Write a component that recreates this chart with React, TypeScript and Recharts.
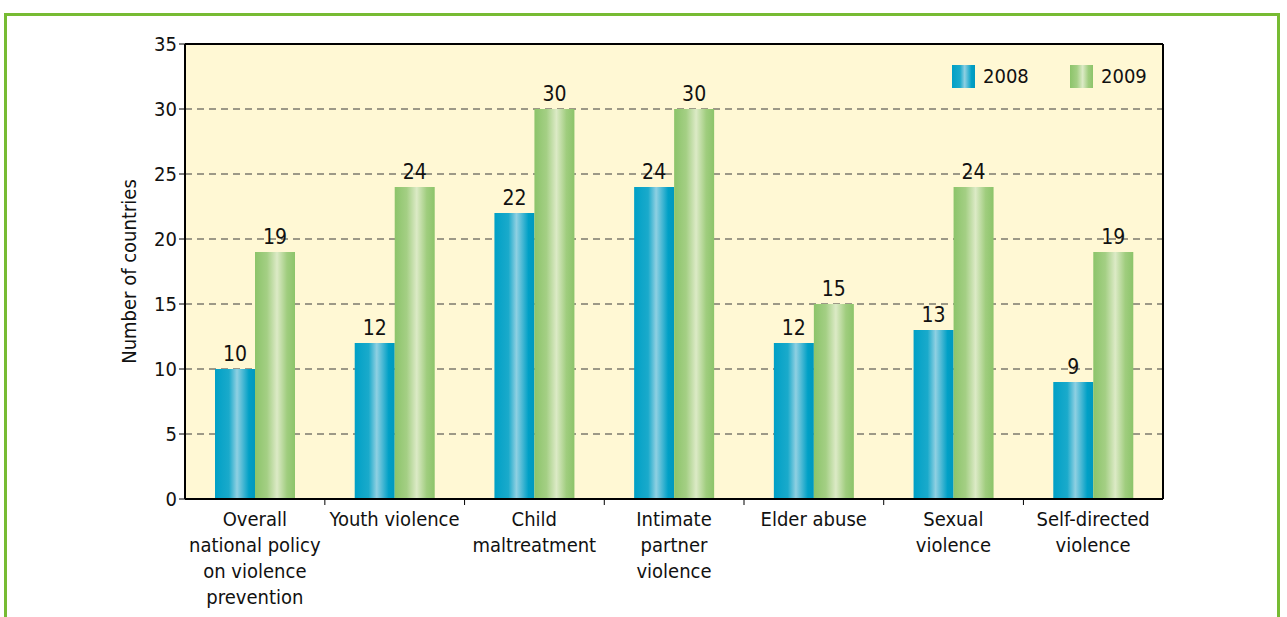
import React from 'react';
import { BarChart, Bar, XAxis, YAxis, CartesianGrid, LabelList } from 'recharts';

const categories = [
  'Overall\nnational policy\non violence\nprevention',
  'Youth violence',
  'Child\nmaltreatment',
  'Intimate\npartner\nviolence',
  'Elder abuse',
  'Sexual\nviolence',
  'Self-directed\nviolence',
];
const values2008 = [10, 12, 22, 24, 12, 13, 9];
const values2009 = [19, 24, 30, 30, 15, 24, 19];
const yTicks = [0, 5, 10, 15, 20, 25, 30, 35];
const seriesNames = ['2008', '2009'];

const data = categories.map((c, i) => ({ name: c, y2008: values2008[i], y2009: values2009[i] }));

const FONT = '"DejaVu Sans Condensed", "Liberation Sans Narrow", "Liberation Sans", Arial, sans-serif';
const PLOT_W = 980;

const XTick = (props: any) => {
  const { x, y, payload, index } = props;
  const lines = String(payload.value).split('\n');
  const half = PLOT_W / categories.length / 2;
  return (
    <g>
      {index < categories.length - 1 && (
        <line x1={x + half} x2={x + half} y1={y - 8} y2={y - 2} stroke="#000" strokeWidth={1} />
      )}
      <text x={x} y={y} textAnchor="middle" fontFamily={FONT} fontSize={20} fill="#111">
        {lines.map((l, i) => (
          <tspan key={i} x={x} dy={i === 0 ? 19 : 26}>{l}</tspan>
        ))}
      </text>
    </g>
  );
};

const BLUE_BG = 'linear-gradient(to right, #00A0C6 0%, #1AAACB 35%, #8FD0E2 55%, #00A0C6 85%, #0098BE 100%)';
const GREEN_BG = 'linear-gradient(to right, #8CC46A 0%, #A4CF84 30%, #DCEAC6 55%, #A0CD7E 80%, #8CC46A 100%)';

export default function App() {
  return (
    <div style={{ position: 'absolute', left: 0, top: 0, width: 1287, height: 617, background: '#fff', overflow: 'hidden' }}>
      <div style={{ position: 'absolute', left: 4, top: 13, width: 1276, height: 700, border: '3px solid #77BB33', boxSizing: 'border-box' }} />
      <div style={{ position: 'absolute', left: 0, top: 0 }}>
        <BarChart
          width={1287}
          height={617}
          data={data}
          margin={{ top: 43, right: 123, left: 125, bottom: 18 }}
          barCategoryGap={30}
          barGap={0}
        >
          <defs>
            <linearGradient id="g2008" x1="0" y1="0" x2="1" y2="0">
              <stop offset="0%" stopColor="#00A0C6" />
              <stop offset="35%" stopColor="#1AAACB" />
              <stop offset="55%" stopColor="#8FD0E2" />
              <stop offset="85%" stopColor="#00A0C6" />
              <stop offset="100%" stopColor="#0098BE" />
            </linearGradient>
            <linearGradient id="g2009" x1="0" y1="0" x2="1" y2="0">
              <stop offset="0%" stopColor="#8CC46A" />
              <stop offset="30%" stopColor="#A4CF84" />
              <stop offset="55%" stopColor="#DCEAC6" />
              <stop offset="80%" stopColor="#A0CD7E" />
              <stop offset="100%" stopColor="#8CC46A" />
            </linearGradient>
          </defs>
          <CartesianGrid vertical={false} stroke="#3a3a3a" strokeDasharray="7 5" fill="#FFF8D4" />
          <XAxis
            dataKey="name"
            interval={0}
            tick={<XTick />}
            tickLine={false}
            axisLine={{ stroke: '#000', strokeWidth: 2 }}
            height={100}
          />
          <XAxis xAxisId="top" orientation="top" dataKey="name" tick={false} tickLine={false} height={1} axisLine={{ stroke: '#000', strokeWidth: 2 }} />
          <YAxis
            domain={[0, 35]}
            ticks={yTicks}
            interval={0}
            width={60}
            tick={{ fontFamily: FONT, fontSize: 20, fill: '#111' }}
            tickLine={{ stroke: '#000' }}
            tickSize={6}
            axisLine={{ stroke: '#000', strokeWidth: 2 }}
            label={{ value: 'Number of countries', angle: -90, position: 'insideLeft', offset: 0, dx: 4, style: { fontFamily: FONT, fontSize: 20, fill: '#111', textAnchor: 'middle' } }}
          />
          <YAxis yAxisId="right" orientation="right" domain={[0, 35]} tick={false} tickLine={false} width={1} axisLine={{ stroke: '#000', strokeWidth: 2 }} />
          <Bar dataKey="y2008" name={seriesNames[0]} fill="url(#g2008)" barSize={40} isAnimationActive={false}>
            <LabelList dataKey="y2008" position="top" offset={8} style={{ fontFamily: FONT, fontSize: 21, fill: '#111' }} />
          </Bar>
          <Bar dataKey="y2009" name={seriesNames[1]} fill="url(#g2009)" barSize={40} isAnimationActive={false}>
            <LabelList dataKey="y2009" position="top" offset={8} style={{ fontFamily: FONT, fontSize: 21, fill: '#111' }} />
          </Bar>
        </BarChart>
      </div>
      <div style={{ position: 'absolute', left: 952, top: 65, display: 'flex', fontFamily: FONT, fontSize: 20, color: '#111', lineHeight: '23px' }}>
        <div style={{ display: 'flex', alignItems: 'center', width: 118 }}>
          <div style={{ width: 23, height: 23, background: BLUE_BG, marginRight: 8 }} />
          <span>{seriesNames[0]}</span>
        </div>
        <div style={{ display: 'flex', alignItems: 'center' }}>
          <div style={{ width: 23, height: 23, background: GREEN_BG, marginRight: 8 }} />
          <span>{seriesNames[1]}</span>
        </div>
      </div>
    </div>
  );
}
